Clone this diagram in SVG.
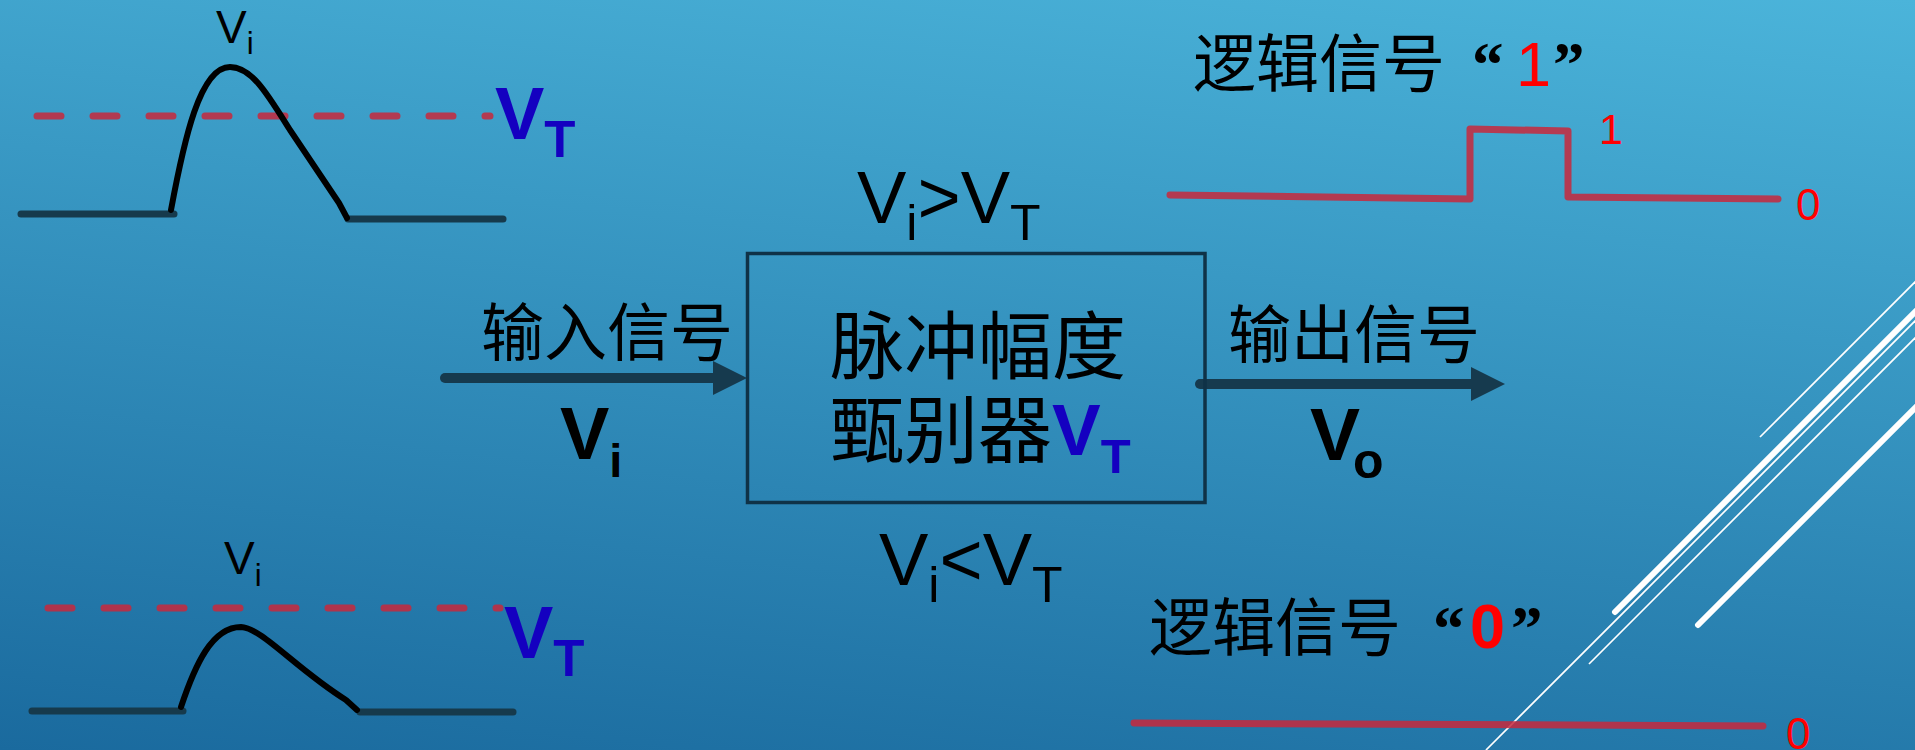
<svg xmlns="http://www.w3.org/2000/svg" width="1915" height="750" viewBox="0 0 1915 750">
  <defs>
    <linearGradient id="bg" gradientUnits="userSpaceOnUse" x1="1915" y1="0" x2="1813" y2="946">
      <stop offset="0" stop-color="#4bb4da"/>
      <stop offset="1" stop-color="#1a6a9e"/>
    </linearGradient>
    <marker id="arrow" markerUnits="userSpaceOnUse" markerWidth="36" markerHeight="36" refX="0" refY="17" orient="auto" overflow="visible">
      <path d="M0,0 L34,17 L0,34 Z" fill="#163a4e"/>
    </marker>
    <style>
      .t { font-family: "Liberation Sans", "Noto Sans CJK SC", sans-serif; fill: #000; }
      .b { font-weight: bold; }
      .blue { fill: #1400c0; }
      .red { fill: #ff0000; }
      .q { font-family: "Liberation Serif", serif; font-weight: bold; }
      .base { stroke: #163a4c; stroke-width: 7; stroke-linecap: round; fill: none; }
      .pulse { stroke: #000; stroke-width: 6; stroke-linecap: round; stroke-linejoin: round; fill: none; }
      .dash { stroke: #c8283c; stroke-opacity: 0.85; stroke-width: 7; stroke-linecap: round; stroke-dasharray: 24 32; fill: none; }
      .logic { stroke: #c8283c; stroke-opacity: 0.85; stroke-width: 7; stroke-linecap: round; stroke-linejoin: round; fill: none; }
      .conn { stroke: #163a4e; stroke-width: 10; stroke-linecap: round; fill: none; }
      .deco-thin { stroke: #fff; stroke-width: 1.7; fill: none; }
      .deco-thick { stroke: #fff; stroke-width: 6; stroke-linecap: round; fill: none; }
    </style>
  </defs>

  <rect x="0" y="0" width="1915" height="750" fill="url(#bg)"/>

  <g id="decoration">
    <line class="deco-thin" x1="1760" y1="437" x2="1935" y2="262"/>
    <line class="deco-thick" x1="1615" y1="612" x2="1935" y2="292"/>
    <line class="deco-thin" x1="1486" y1="750" x2="1935" y2="301"/>
    <line class="deco-thin" x1="1589" y1="664" x2="1935" y2="318"/>
    <line class="deco-thick" x1="1698" y1="625" x2="1935" y2="388"/>
  </g>

  <g id="wave-above">
    <line class="base" x1="21" y1="214" x2="174" y2="214"/>
    <line class="base" x1="348" y1="219" x2="503" y2="219"/>
    <line class="dash" x1="37" y1="116" x2="490" y2="116"/>
    <path class="pulse" d="M171,210 C184,140 200,67 230,67 C252,67 268,95 290,130 L339,203 L347,218"/>
    <text class="t" x="216" y="43" font-size="46">V<tspan font-size="31" dy="11">i</tspan></text>
    <text class="t b blue" x="495" y="139" font-size="74">V<tspan font-size="51" dy="18">T</tspan></text>
  </g>

  <g id="wave-below">
    <line class="base" x1="32" y1="711" x2="183" y2="711"/>
    <line class="base" x1="360" y1="712" x2="513" y2="712"/>
    <line class="dash" x1="48" y1="608" x2="500" y2="608"/>
    <path class="pulse" d="M181,707 C195,665 212,627 241,627 C262,628 295,668 346,700 L357,710"/>
    <text class="t" x="224" y="574" font-size="46">V<tspan font-size="31" dy="12">i</tspan></text>
    <text class="t b blue" x="504" y="658" font-size="74">V<tspan font-size="51" dy="18">T</tspan></text>
  </g>

  <g id="connectors">
    <line class="conn" x1="445" y1="378" x2="713" y2="378" marker-end="url(#arrow)"/>
    <line class="conn" x1="1200" y1="384" x2="1471" y2="384" marker-end="url(#arrow)"/>
  </g>

  <g id="input-label">
    <text class="t" x="481" y="355" font-size="63">输入信号</text>
    <text class="t b" x="560" y="459" font-size="74">V<tspan font-size="47" dy="18">i</tspan></text>
  </g>

  <g id="discriminator">
    <rect x="747.5" y="253.5" width="457.5" height="249" fill="none" stroke="#0f3247" stroke-width="3.5"/>
    <text class="t" x="830" y="373" font-size="74">脉冲幅度</text>
    <text class="t" x="830" y="457" font-size="74">甄别器<tspan class="b blue" font-size="73" dy="-2">V</tspan><tspan class="b blue" font-size="49" dy="18">T</tspan></text>
  </g>

  <g id="cond-above">
    <text class="t" x="857" y="223" font-size="74">V<tspan font-size="50" dy="17">i</tspan><tspan dy="-17">&gt;V</tspan><tspan font-size="50" dy="17">T</tspan></text>
  </g>

  <g id="cond-below">
    <text class="t" x="879" y="585" font-size="74">V<tspan font-size="50" dy="17">i</tspan><tspan dy="-17">&lt;V</tspan><tspan font-size="50" dy="17">T</tspan></text>
  </g>

  <g id="output-label">
    <text class="t" x="1228" y="357" font-size="63">输出信号</text>
    <text class="t b" x="1310" y="460" font-size="75">V<tspan font-size="50" dx="-7" dy="18">o</tspan></text>
  </g>

  <g id="logic-one">
    <text class="t" x="1193" y="86" font-size="63">逻辑信号<tspan class="q" x="1472">“</tspan><tspan class="red" x="1516">1</tspan><tspan class="q" x="1553">”</tspan></text>
    <path class="logic" d="M1170,195 L1470,199 L1470,129 L1568,131 L1568,197 L1778,199"/>
    <text class="t red" x="1599" y="144" font-size="43">1</text>
    <text class="t red" x="1796" y="220" font-size="44">0</text>
  </g>

  <g id="logic-zero">
    <text class="t" x="1149" y="650" font-size="63">逻辑信号<tspan class="q" x="1433">“</tspan><tspan class="red b" x="1470" dy="-2">0</tspan><tspan class="q" x="1511" dy="2">”</tspan></text>
    <line class="logic" x1="1134" y1="723" x2="1763" y2="726"/>
    <text class="t red" x="1786" y="749" font-size="44">0</text>
  </g>
</svg>
